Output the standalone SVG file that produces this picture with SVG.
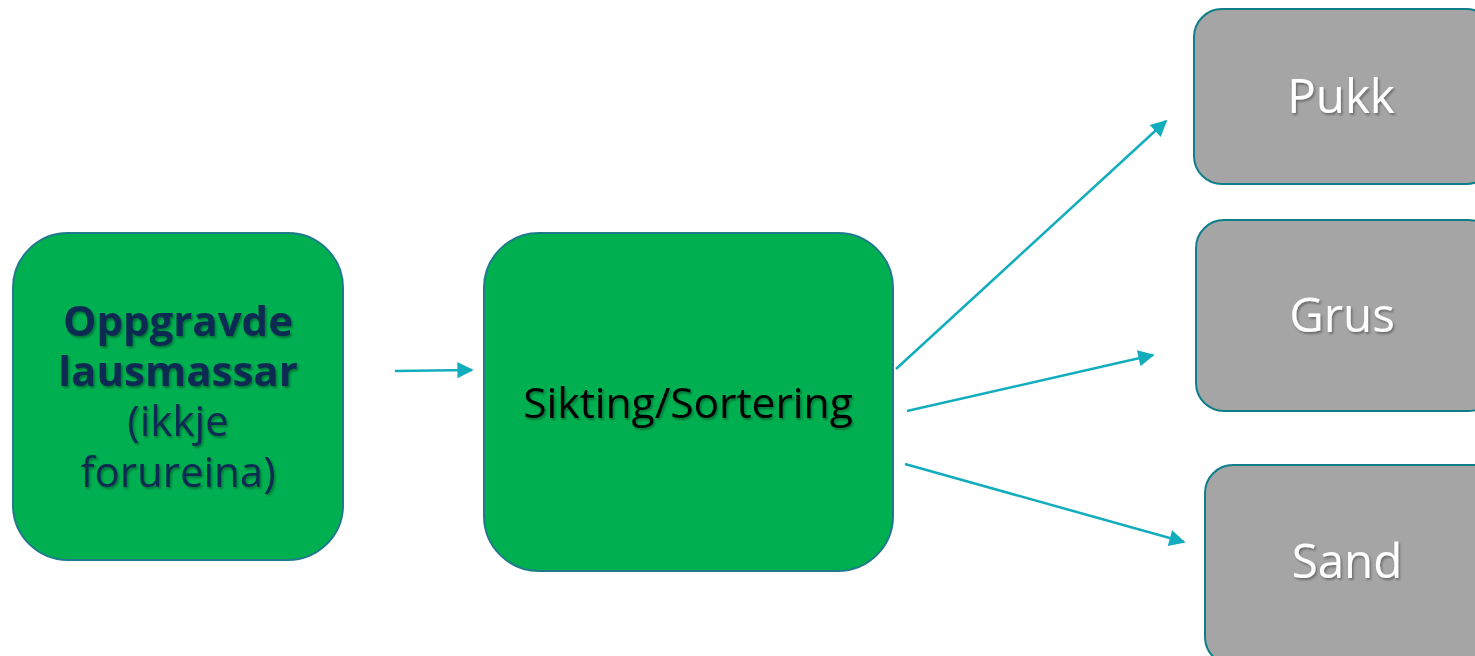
<svg xmlns="http://www.w3.org/2000/svg" width="1475" height="656" viewBox="0 0 1475 656">
<defs>
<style>
.green{fill:#00b050;stroke:#1f7a8c;stroke-width:2}
.gray{fill:#a5a5a5;stroke:#0e7f8a;stroke-width:2}
.t{font-family:"Open Sans","Noto Sans",sans-serif;text-anchor:middle}
.navy{fill:#0b2a52;font-size:42px}
.blk{fill:#000;font-size:42.5px}
.wht{fill:#fff;font-size:47.5px}
.conn{stroke:#12adbd;stroke-width:2.5;fill:none;marker-end:url(#ah)}
</style>
<filter id="sh" x="-10%" y="-10%" width="120%" height="130%">
<feDropShadow dx="1.5" dy="2" stdDeviation="1.2" flood-color="#000" flood-opacity="0.35"/>
</filter>
<marker id="ah" viewBox="0 0 10 10" refX="9" refY="5" markerWidth="7" markerHeight="6.5" markerUnits="strokeWidth" orient="auto">
<path d="M0,0 L10,5 L0,10 z" fill="#12adbd"/>
</marker>
</defs>
<g id="connectors">
<line class="conn" x1="395" y1="371" x2="472" y2="370"/>
<line class="conn" x1="896" y1="369" x2="1166" y2="121"/>
<line class="conn" x1="907" y1="411" x2="1153" y2="355"/>
<line class="conn" x1="905" y1="464" x2="1184" y2="542"/>
</g>
<g id="node-oppgravde">
<rect class="green" x="13" y="233" width="330" height="327" rx="55"/>
<g class="t navy" filter="url(#sh)">
<text x="178" y="336" font-weight="bold">Oppgravde</text>
<text x="178" y="386" font-weight="bold">lausmassar</text>
<text x="178" y="436">(ikkje</text>
<text x="178" y="487">forureina)</text>
</g>
</g>
<g id="node-sikting">
<rect class="green" x="484" y="233" width="409" height="338" rx="55"/>
<text class="t blk" x="688" y="418" filter="url(#sh)">Sikting/Sortering</text>
</g>
<g id="node-pukk">
<rect class="gray" x="1194" y="9" width="300" height="175" rx="28"/>
<text class="t wht" x="1341" y="113" filter="url(#sh)">Pukk</text>
</g>
<g id="node-grus">
<rect class="gray" x="1196" y="220" width="300" height="191" rx="28"/>
<text class="t wht" x="1342" y="332" filter="url(#sh)">Grus</text>
</g>
<g id="node-sand">
<rect class="gray" x="1205" y="465" width="300" height="200" rx="28"/>
<text class="t wht" x="1347" y="578" filter="url(#sh)">Sand</text>
</g>
</svg>
